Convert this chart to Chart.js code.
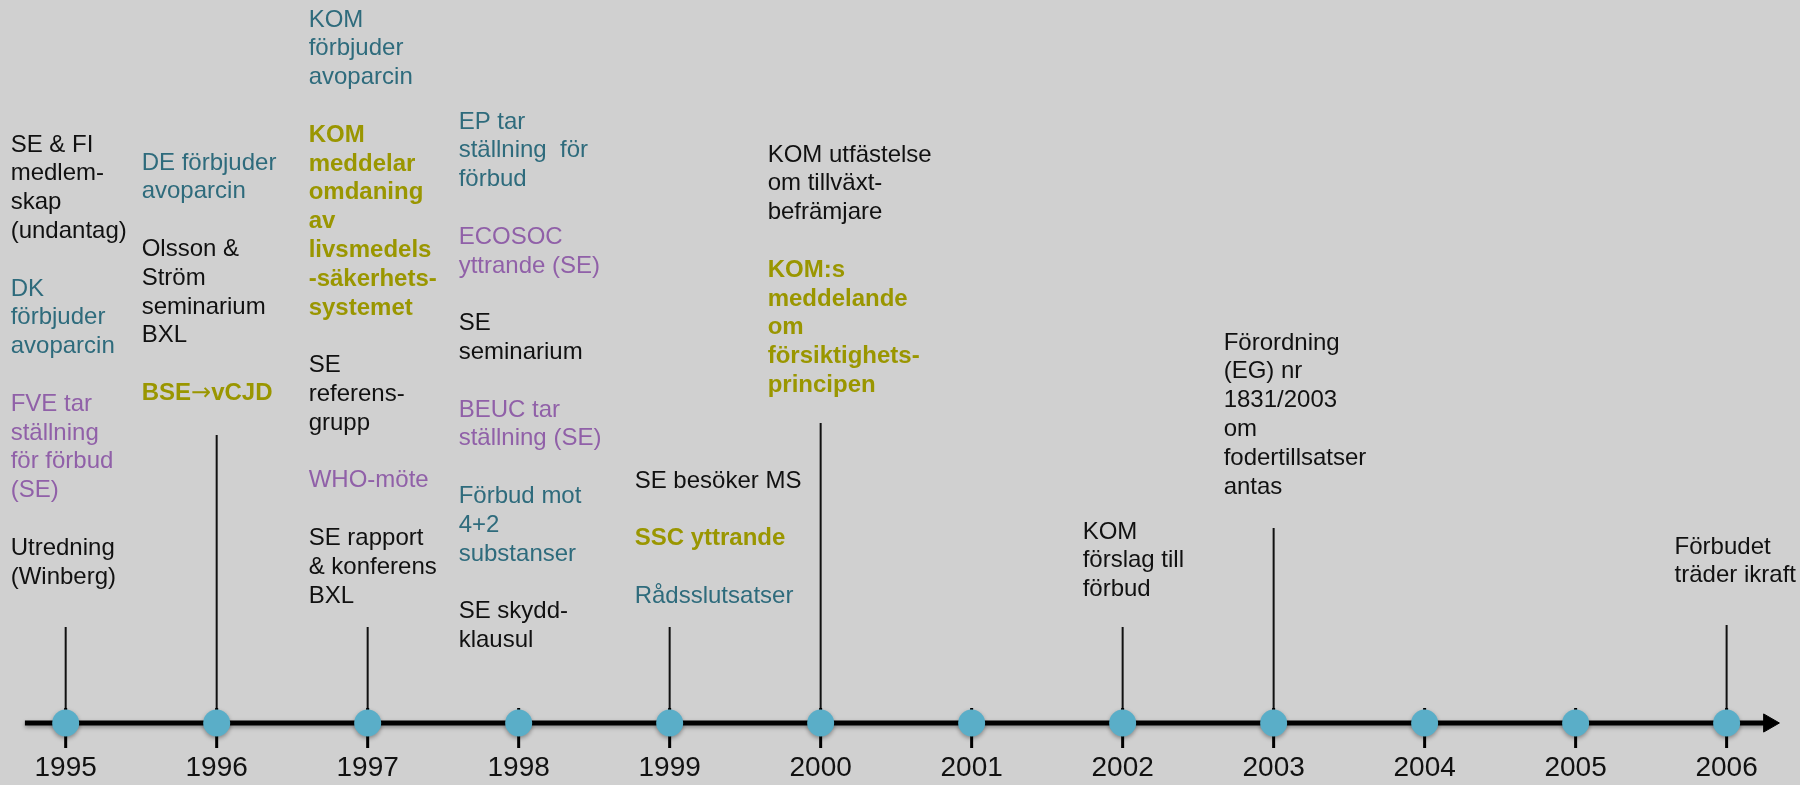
<!DOCTYPE html>
<html>
<head>
<meta charset="utf-8">
<script src="https://cdn.jsdelivr.net/npm/chart.js@4/dist/chart.umd.min.js"></script>
<style>
  html, body { margin: 0; padding: 0; background: #D0D0D0; }
  #wrap { position: relative; width: 1800px; height: 785px; }
</style>
</head>
<body>
<div id="wrap"><canvas id="c"></canvas></div>
<script>
// ---- data ----
const years = [1995, 1996, 1997, 1998, 1999, 2000, 2001, 2002, 2003, 2004, 2005, 2006];
const yearLabels = ["1995", "1996", "1997", "1998", "1999", "2000", "2001", "2002", "2003", "2004", "2005", "2006"];
const dotLevel = [0, 0, 0, 0, 0, 0, 0, 0, 0, 0, 0, 0];

const stemYears = [1995, 1996, 1997, 1999, 2000, 2002, 2003, 2006];
const stemHeights = [96, 288, 96, 96, 300, 96, 195, 98];

// note lines: [text, style]  k=black, t=teal, p=purple, o=olive bold, "" = blank line
const notes1995 = [["SE & FI","k"],["medlem-","k"],["skap","k"],["(undantag)","k"],["",""],
  ["DK","t"],["förbjuder","t"],["avoparcin","t"],["",""],
  ["FVE tar","p"],["ställning","p"],["för förbud","p"],["(SE)","p"],["",""],
  ["Utredning","k"],["(Winberg)","k"]];
const notes1996 = [["DE förbjuder","t"],["avoparcin","t"],["",""],
  ["Olsson &","k"],["Ström","k"],["seminarium","k"],["BXL","k"],["",""],
  ["BSE\u2192vCJD","o"]];
const notes1997 = [["KOM","t"],["förbjuder","t"],["avoparcin","t"],["",""],
  ["KOM","o"],["meddelar","o"],["omdaning","o"],["av","o"],["livsmedels","o"],["-säkerhets-","o"],["systemet","o"],["",""],
  ["SE","k"],["referens-","k"],["grupp","k"],["",""],
  ["WHO-möte","p"],["",""],
  ["SE rapport","k"],["& konferens","k"],["BXL","k"]];
const notes1998 = [["EP tar","t"],["ställning  för","t"],["förbud","t"],["",""],
  ["ECOSOC","p"],["yttrande (SE)","p"],["",""],
  ["SE","k"],["seminarium","k"],["",""],
  ["BEUC tar","p"],["ställning (SE)","p"],["",""],
  ["Förbud mot","t"],["4+2","t"],["substanser","t"],["",""],
  ["SE skydd-","k"],["klausul","k"]];
const notes1999 = [["SE besöker MS","k"],["",""],["SSC yttrande","o"],["",""],["Rådsslutsatser","t"]];
const notes2000 = [["KOM utfästelse","k"],["om tillväxt-","k"],["befrämjare","k"],["",""],
  ["KOM:s","o"],["meddelande","o"],["om","o"],["försiktighets-","o"],["principen","o"]];
const notes2002 = [["KOM","k"],["förslag till","k"],["förbud","k"]];
const notes2003 = [["Förordning","k"],["(EG) nr","k"],["1831/2003","k"],["om","k"],["fodertillsatser","k"],["antas","k"]];
const notes2006 = [["Förbudet","k"],["träder ikraft","k"]];

const noteYears = [1995, 1996, 1997, 1998, 1999, 2000, 2002, 2003, 2006];
const noteLists = [notes1995, notes1996, notes1997, notes1998, notes1999, notes2000, notes2002, notes2003, notes2006];

// ---- layout (not data) ----
const noteTop = [578, 560, 703, 601, 242, 568, 191, 380, 176];   // first line centre, y-units above axis
const noteDx = [-55, -75, -59, -60, -35, -53, -40, -50, -52];   // px offset of text from year position
const lineStep = 28.8;
const styles = {
  k: { color: "#111111", font: "24px 'Liberation Sans', Arial, sans-serif" },
  t: { color: "#2E6B7C", font: "24px 'Liberation Sans', Arial, sans-serif" },
  p: { color: "#9060A8", font: "24px 'Liberation Sans', Arial, sans-serif" },
  o: { color: "#9A9600", font: "bold 24px 'Liberation Sans', Arial, sans-serif" }
};
const arrowFont = "24px 'DejaVu Sans', sans-serif";
const axisStart = 1994.73, axisEnd = 2006.25, arrowAt = 2006.28;

// ---- build datasets from arrays ----
const stemData = [];
stemYears.forEach((yr, i) => {
  stemData.push({ x: yr, y: 0 }, { x: yr, y: stemHeights[i] }, { x: yr, y: null });
});
const tickData = [];
years.forEach(yr => { tickData.push({ x: yr, y: -25 }, { x: yr, y: 15 }, { x: yr, y: null }); });

function drawLine(ctx, text, x, y, st) {
  // draw text, rendering the arrow glyph with a font that has a full-size arrow
  const parts = text.split(/(\u2192)/);
  let cx = x;
  ctx.fillStyle = st.color;
  parts.forEach(p => {
    if (!p) return;
    ctx.font = (p === '\u2192') ? arrowFont : st.font;
    ctx.fillText(p, cx, y);
    cx += ctx.measureText(p).width;
  });
}

const notesPlugin = {
  id: 'notes',
  afterDatasetsDraw(chart) {
    const ctx = chart.ctx, xs = chart.scales.x, ys = chart.scales.y;
    ctx.save();
    ctx.textAlign = 'left';
    ctx.textBaseline = 'middle';
    noteLists.forEach((lines, i) => {
      const px = xs.getPixelForValue(noteYears[i]) + noteDx[i];
      lines.forEach((ln, j) => {
        if (!ln[0]) return;
        drawLine(ctx, ln[0], px, ys.getPixelForValue(noteTop[i]) + j * lineStep, styles[ln[1]]);
      });
    });
    ctx.restore();
  }
};

const shadowPlugin = {
  id: 'shadow',
  beforeDatasetDraw(chart, args) {
    if (args.index === 0 || args.index === 1) {
      chart.ctx.save();
      chart.ctx.shadowColor = 'rgba(0,0,0,0.35)';
      chart.ctx.shadowBlur = 4;
      chart.ctx.shadowOffsetY = 2;
    }
  },
  afterDatasetDraw(chart, args) {
    if (args.index === 0 || args.index === 1) chart.ctx.restore();
  }
};

new Chart(document.getElementById('c'), {
  type: 'scatter',
  data: {
    datasets: [
      { // dots
        label: 'years',
        data: years.map((yr, i) => ({ x: yr, y: dotLevel[i] })),
        pointRadius: 13.5, pointBackgroundColor: '#5AAEC8', pointBorderWidth: 0,
        showLine: false, order: 0
      },
      { // axis line
        label: 'axis',
        data: [{ x: axisStart, y: 0 }, { x: axisEnd, y: 0 }],
        showLine: true, borderColor: '#000', borderWidth: 5, pointRadius: 0, order: 1
      },
      { // arrow head
        label: 'arrow',
        data: [{ x: arrowAt, y: 0 }],
        pointStyle: 'triangle', rotation: 90, pointRadius: 10.5,
        pointBackgroundColor: '#000', pointBorderColor: '#000', pointBorderWidth: 1, order: 1
      },
      { // ticks
        label: 'ticks',
        data: tickData,
        showLine: true, spanGaps: false, borderColor: '#000', borderWidth: 3, pointRadius: 0, order: 2
      },
      { // stems
        label: 'stems',
        data: stemData,
        showLine: true, spanGaps: false, borderColor: '#111', borderWidth: 2, pointRadius: 0, order: 3
      }
    ]
  },
  options: {
    responsive: true,
    maintainAspectRatio: false,
    animation: false,
    layout: { padding: 0, autoPadding: false },
    plugins: { legend: { display: false }, tooltip: { enabled: false } },
    scales: {
      x: {
        type: 'linear', min: 1994.565, max: 2006.486,
        afterBuildTicks: (scale) => { scale.ticks = years.map(v => ({ value: v })); },
        afterFit: (scale) => {
          scale.height = 37;
          scale.paddingLeft = 0; scale.paddingRight = 0;
          scale.paddingTop = 0; scale.paddingBottom = 0;
        },
        ticks: {
          callback: (v) => yearLabels[years.indexOf(v)],
          font: { size: 28, family: "'Liberation Sans', Arial, sans-serif" },
          color: '#111', padding: 3, maxRotation: 0, autoSkip: false
        },
        grid: { display: false, drawTicks: false },
        border: { display: false }
      },
      y: {
        display: false, min: -25, max: 723
      }
    }
  },
  plugins: [notesPlugin, shadowPlugin]
});
</script>
</body>
</html>
